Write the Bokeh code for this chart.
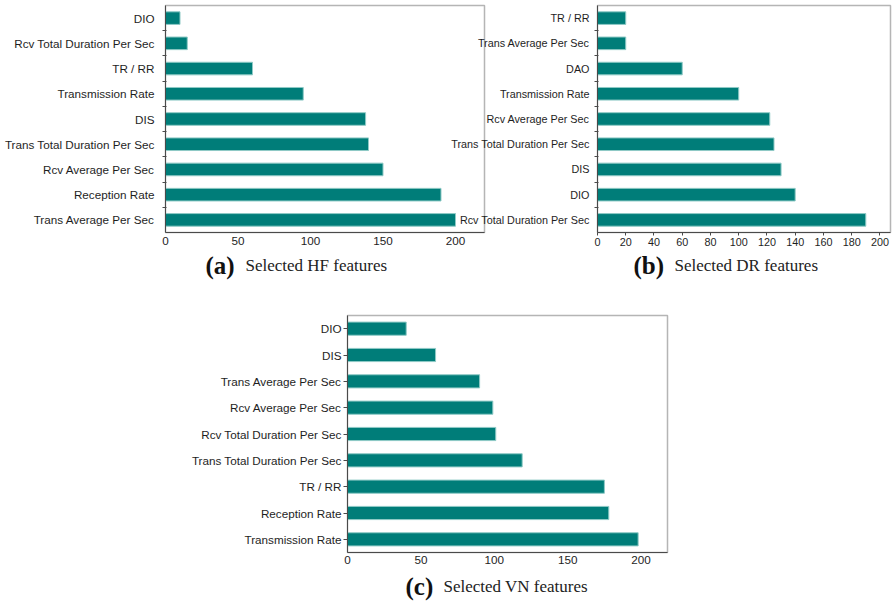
from bokeh.plotting import figure
from bokeh.models import Range1d, FixedTicker, Spacer, ColumnDataSource, FactorRange
from bokeh.layouts import column, row
from bokeh.core.properties import value
from bokeh.embed import file_html
from bokeh.resources import INLINE

# ---- data (listed top to bottom as shown on each panel) ----
hf_features = ["DIO", "Rcv Total Duration Per Sec", "TR / RR", "Transmission Rate",
               "DIS", "Trans Total Duration Per Sec", "Rcv Average Per Sec",
               "Reception Rate", "Trans Average Per Sec"]
hf_scores = [10, 15, 60, 95, 138, 140, 150, 190, 200]

dr_features = ["TR / RR", "Trans Average Per Sec", "DAO", "Transmission Rate",
               "Rcv Average Per Sec", "Trans Total Duration Per Sec", "DIS", "DIO",
               "Rcv Total Duration Per Sec"]
dr_scores = [20, 20, 60, 100, 122, 125, 130, 140, 190]

vn_features = ["DIO", "DIS", "Trans Average Per Sec", "Rcv Average Per Sec",
               "Rcv Total Duration Per Sec", "Trans Total Duration Per Sec", "TR / RR",
               "Reception Rate", "Transmission Rate"]
vn_scores = [40, 60, 90, 99, 101, 119, 175, 178, 198]

hf_ticks = [0, 50, 100, 150, 200]
dr_ticks = [0, 20, 40, 60, 80, 100, 120, 140, 160, 180, 200]
vn_ticks = [0, 50, 100, 150, 200]

panel_tags = ["(a)", "(b)", "(c)"]
panel_titles = ["Selected HF features", "Selected DR features", "Selected VN features"]

BAR_FILL = "#007d79"
BAR_EDGE = "#8fcac6"
AXIS_DARK = "#4a4a4a"
FRAME_LIGHT = "#b5b5b5"
LABEL_COLOR = "#1e1e1e"
SANS = "Liberation Sans"
SERIF = "Liberation Serif"


def base_figure(width, height, x_end, y_range, borders):
    left, right, top, bottom = borders
    p = figure(width=width, height=height, x_range=Range1d(0, x_end), y_range=y_range,
               output_backend="svg", toolbar_location=None,
               min_border_left=left, min_border_right=right,
               min_border_top=top, min_border_bottom=bottom)
    p.grid.visible = False
    p.outline_line_color = FRAME_LIGHT
    p.outline_line_width = 1.5
    for ax in (p.xaxis[0], p.yaxis[0]):
        ax.axis_line_color = AXIS_DARK
        ax.axis_line_width = 1
        ax.major_label_text_font = SANS
        ax.major_label_text_color = LABEL_COLOR
        ax.minor_tick_line_color = None
        ax.minor_tick_out = 0
        ax.minor_tick_in = 0
        ax.major_tick_in = 0
    return p


def boundary_tick_panel(names, scores, ticks, x_end, width, height, borders, font_px,
                        y_standoff, x_tick_out, x_standoff):
    """Horizontal bars on a numeric y scale, tick marks between categories."""
    n = len(names)
    pos = [n - 1 - i + 0.5 for i in range(n)]
    src = ColumnDataSource(dict(y=pos, score=scores, name=names))
    p = base_figure(width, height, x_end, Range1d(0, n), borders)
    p.hbar(y="y", right="score", left=0, height=0.5, source=src,
           fill_color=BAR_FILL, line_color=BAR_EDGE, line_width=1)
    ya = p.yaxis[0]
    ya.ticker = FixedTicker(ticks=pos, minor_ticks=list(range(1, n)))
    ya.major_label_overrides = {y: nm for y, nm in zip(pos, names)}
    ya.major_tick_line_color = None
    ya.major_tick_out = 0
    ya.minor_tick_line_color = AXIS_DARK
    ya.minor_tick_out = 3
    ya.minor_tick_in = 1
    ya.major_label_standoff = y_standoff
    ya.major_label_text_font_size = font_px
    xa = p.xaxis[0]
    xa.ticker = FixedTicker(ticks=ticks)
    xa.major_label_text_font_size = font_px
    if x_tick_out:
        xa.major_tick_line_color = AXIS_DARK
        xa.major_tick_out = x_tick_out
    else:
        xa.major_tick_line_color = None
        xa.major_tick_out = 0
    xa.major_label_standoff = x_standoff
    return p


def caption_strip(width, height, entries, y_mid):
    """A bare strip carrying '(x)  caption' pairs at given left offsets."""
    p = figure(width=width, height=height, x_range=Range1d(0, width),
               y_range=Range1d(0, height), output_backend="svg", toolbar_location=None,
               x_axis_type=None, y_axis_type=None,
               min_border_left=0, min_border_right=0, min_border_top=0, min_border_bottom=0)
    p.outline_line_color = None
    p.grid.visible = False
    for tag, title, tag_x, title_x in entries:
        p.text(x=[tag_x], y=[y_mid], text=[tag], text_font=value(SERIF),
               text_font_style="bold", text_font_size="25px", text_color="#111111",
               text_baseline="middle", text_align="left")
        p.text(x=[title_x], y=[y_mid], text=[title], text_font=value(SERIF),
               text_font_size="17px", text_color="#222222",
               text_baseline="middle", text_align="left")
    return p


# (a) HF
pa = boundary_tick_panel(hf_features, hf_scores, hf_ticks, 220, 490, 252,
                         (165, 6, 5, 20), "11.7px", 8, 0, 4)

# (b) DR, its label gutter overlaps the right edge of (a)
pb = boundary_tick_panel(dr_features, dr_scores, dr_ticks, 207.5, 446, 252,
                         (150, 3, 5, 20), "10.8px", 5, 3, 2)
pb.border_fill_alpha = 0
pb.margin = (0, 0, 0, -43)

cap_top = caption_strip(893, 38, [(panel_tags[0], panel_titles[0], 205, 245),
                                  (panel_tags[1], panel_titles[1], 633, 674)], 25)

# (c) VN: categorical y scale, ticks on category centres
vn_order = list(reversed(vn_features))
pc = base_figure(713, 282, 218, FactorRange(*vn_order, range_padding=0), (167, 226, 25, 20))
pc.y_range.factor_padding = 0
pc.hbar(y=vn_features, right=vn_scores, left=0, height=0.5,
        fill_color=BAR_FILL, line_color=BAR_EDGE, line_width=1)
yc = pc.yaxis[0]
yc.major_tick_line_color = AXIS_DARK
yc.major_tick_out = 4
yc.major_label_standoff = 2
yc.major_label_text_font_size = "11.7px"
xc = pc.xaxis[0]
xc.ticker = FixedTicker(ticks=vn_ticks)
xc.major_tick_line_color = None
xc.major_tick_out = 0
xc.major_label_standoff = 3
xc.major_label_text_font_size = "11.7px"

cap_bottom = caption_strip(893, 31, [(panel_tags[2], panel_titles[2], 405, 443)], 17)

layout = column(row(pa, pb), cap_top,
                row(Spacer(width=180, height=282), pc), cap_bottom)

open("out.html", "w").write(file_html(layout, INLINE))
